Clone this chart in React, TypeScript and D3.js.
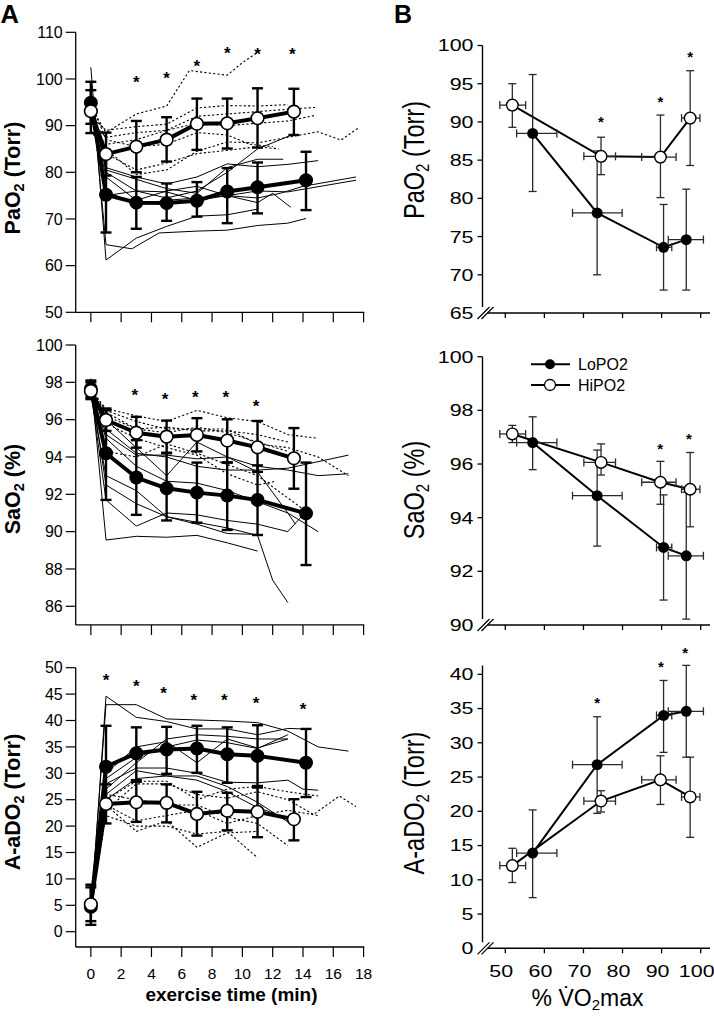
import React from "react";
import * as d3 from "d3";

const FONT = "'Liberation Sans', Arial, Helvetica, sans-serif";

type Pt = [number, number];

// ================= Panel A : time course =================
const timeLo = [0, 1, 3, 5, 7, 9, 11, 14.2];
const timeHi = [0, 1, 3, 5, 7, 9, 11, 13.4];
const xTicksA = [0, 2, 4, 6, 8, 10, 12, 14, 16, 18];

// PaO2
const paLoMean = [94.9, 75.2, 73.5, 73.4, 73.9, 75.9, 76.8, 78.3];
const paLoLow = [90.4, 67.1, 67.9, 69.6, 70.5, 69.1, 71.2, 71.9];
const paLoHigh = [99.4, 83.5, 79.0, 77.6, 77.9, 80.9, 82.1, 84.4];
const paHiMean = [93.1, 83.9, 85.5, 87.0, 90.4, 90.5, 91.6, 93.0];
const paHiLow = [88.4, 79.3, 80.0, 82.3, 84.8, 85.1, 85.3, 88.0];
const paHiHigh = [97.6, 88.5, 91.0, 91.8, 95.8, 95.8, 98.0, 97.9];
const paStarT = [3, 5, 7, 9, 11, 13.3];
const paStarV = [100.0, 100.9, 103.6, 106.4, 106.2, 106.2];
const paTicks = [50, 60, 70, 80, 90, 100, 110];

const paLoSubjects: Pt[][] = [
  [[0, 102.5], [1, 61.2], [3, 65.9], [5, 68.4], [7, 70.6], [9, 70.9], [11, 72.1]],
  [[0, 99], [1, 64.5], [2.7, 63.6], [4.5, 67], [7, 67.4], [9, 67.6], [11, 68.6], [13, 69.1], [14.2, 70.1]],
  [[0, 97], [1, 80], [3, 76], [5, 74.5], [7, 76], [9, 80], [11, 85], [13.4, 88.2]],
  [[0, 96], [1, 81], [3, 79], [5, 77.5], [7, 79], [9, 81.8], [11, 81.2], [13, 81.7], [15, 82.5]],
  [[0, 95], [1, 80.5], [3, 78.5], [5, 76.5], [7, 75.5], [9, 81], [11, 82.8], [12.7, 82.8]],
  [[0, 94], [1, 79], [3, 74], [5, 76], [7, 77], [9, 75], [11, 74.5], [12.5, 75.5], [14, 77], [17.5, 79]],
  [[0, 93], [1, 75], [3, 76], [5, 75.8], [7, 74], [9, 75], [11, 76], [13, 75.8], [17.5, 78.3]],
  [[0, 95], [1, 76], [3, 73], [5, 74], [7, 74.5], [9, 75], [11, 73.5], [12, 75.5], [13.2, 72.5]],
];
const paHiSubjects: Pt[][] = [
  [[0, 94], [1, 88.5], [3, 92.5], [5, 94.2], [6.5, 101.8], [9, 100.8], [10, 103.5], [11, 105.7]],
  [[0, 93], [1, 85], [3, 79.5], [5, 80.5], [7, 84.5], [9, 86.5], [11, 86.3], [13, 87.5], [15, 88.7], [16.5, 86.9], [17.7, 89.6]],
  [[0, 92], [1, 89], [3, 89.8], [5, 90.3], [7, 93.8], [9, 94.3], [11, 94.2], [13, 94.5]],
  [[0, 91], [1, 87.5], [3, 88.5], [5, 89], [7, 92], [9, 92.5], [11, 93], [13, 93.5], [14.8, 93.9]],
  [[0, 90], [1, 86], [3, 87], [5, 89], [7, 90.5], [9, 90], [11, 90.5], [13, 91], [14.8, 92.2]],
  [[0, 89], [1, 84], [3, 80.5], [5, 82], [7, 84], [9, 84.7], [11, 85.5], [12.4, 85]],
  [[0, 95], [1, 87], [3, 85.5], [5, 86], [7, 88.5], [9, 88], [10.5, 86], [12, 85.5]],
];

// SaO2
const saLoMean = [97.64, 94.2, 92.9, 92.32, 92.09, 91.93, 91.7, 90.98];
const saLoLow = [97.2, 91.7, 90.9, 90.6, 90.48, 90.09, 89.82, 88.21];
const saLoHigh = [98.1, 96.6, 94.9, 94.2, 93.7, 93.71, 93.55, 93.7];
const saHiMean = [97.54, 95.98, 95.3, 95.09, 95.18, 94.88, 94.52, 93.93];
const saHiLow = [97.1, 95.4, 94.5, 94.23, 94.3, 93.7, 93.2, 92.3];
const saHiHigh = [98.0, 96.5, 96.15, 95.95, 96.08, 96.02, 95.93, 95.55];
const saStarT = [2.9, 4.9, 6.9, 8.9, 10.9];
const saStarV = [97.5, 97.27, 97.41, 97.38, 96.93];
const saTicks = [86, 88, 90, 92, 94, 96, 98, 100];

const saLoSubjects: Pt[][] = [
  [[0, 98.2], [1, 89.55], [3, 89.75], [5, 89.7], [7, 89.8], [9, 89.4], [11, 88.96]],
  [[0, 97.8], [1, 92.5], [3, 91.5], [5, 90.8], [7, 90.5], [9, 90.2], [11, 89.8], [12, 87.4], [13, 86.2]],
  [[0, 97.5], [1, 91.7], [3, 90.3], [5, 91], [7, 90.9], [9, 90.6], [11, 90.4], [13, 90.0], [14, 90.9]],
  [[0, 97.3], [1, 93], [3, 92.2], [5, 90.8], [7, 90.4], [9, 89.9], [11, 89.85]],
  [[0, 97.6], [1, 95], [3, 93.5], [5, 92.7], [7, 92.6], [9, 92.2], [11, 91.6], [13, 91], [15, 90]],
  [[0, 97.9], [1, 95.5], [3, 94.2], [5, 94], [7, 93.5], [9, 93.3], [11, 93.3], [13, 93.4], [17, 94.1]],
  [[0, 97.7], [1, 96], [3, 94.5], [5, 93], [7, 94.8], [9, 94], [11, 93.5], [13, 93.3], [15, 93], [17, 93.1]],
  [[0, 98], [1, 95.2], [3, 94.1], [5, 94.1], [7, 93.9], [9, 94], [11, 93.2], [13, 91], [13.5, 90.4]],
];
const saHiSubjects: Pt[][] = [
  [[0, 97.5], [1, 96.6], [3, 96.2], [5, 95.9], [7, 96.5], [9, 96.1], [11, 95.9], [13, 95.2], [15, 95.0]],
  [[0, 97.4], [1, 96.5], [3, 95.9], [5, 95.5], [7, 95.5], [9, 95.5], [11, 94.7], [13, 94.5], [15, 94.0], [17, 93.0]],
  [[0, 97.6], [1, 96.2], [3, 95.5], [5, 95.3], [7, 95.6], [9, 95.3], [11, 94.8], [13, 94.3]],
  [[0, 97.2], [1, 94.3], [3, 94.0], [5, 94.7], [7, 94.2], [9, 93.6], [11, 93.0], [13, 91.8], [14.7, 90.8]],
  [[0, 97.3], [1, 95.8], [3, 95], [5, 94.5], [7, 94.1], [9, 93.1], [11, 92.5], [12.2, 92.7]],
  [[0, 97.8], [1, 96.4], [3, 95.5], [5, 95.6], [7, 95.4], [9, 95.4], [11, 95.2], [13, 94.8]],
];

// A-aDO2
const aaLoMean = [4.7, 31.25, 33.8, 34.5, 34.7, 33.6, 33.3, 32.0];
const aaLoLow = [1.3, 23.5, 28.7, 29.9, 30.1, 28.2, 27.3, 25.5];
const aaLoHigh = [8.9, 39.0, 38.7, 38.8, 39.0, 38.7, 39.1, 38.4];
const aaHiMean = [5.2, 24.2, 24.5, 24.4, 22.3, 22.9, 22.7, 21.3];
const aaHiLow = [2.0, 20.5, 20.8, 20.7, 18.2, 19.2, 17.9, 17.3];
const aaHiHigh = [8.4, 27.9, 28.4, 27.9, 26.5, 26.3, 27.6, 25.1];
const aaStarT = [1, 3, 4.8, 6.8, 8.8, 10.9, 14.0];
const aaStarV = [48.3, 47.2, 45.9, 44.6, 44.5, 44.0, 42.9];
const aaTicks = [0, 5, 10, 15, 20, 25, 30, 35, 40, 45, 50];

const aaLoSubjects: Pt[][] = [
  [[0, 3], [1, 44.6], [3, 40.6], [5, 39.8], [7, 38.4], [9, 38.4], [11, 37.3], [13, 38.5], [14, 38.4]],
  [[0, 4], [1, 43], [3, 43], [5, 40.3], [7, 40.1], [9, 39.9], [11, 39.6], [13, 38], [15, 35], [17, 34.2]],
  [[0, 5], [1, 27], [3, 32], [5, 36.5], [7, 37.3], [9, 37], [11, 36.5], [13, 36.5]],
  [[0, 4], [1, 29], [3, 33], [5, 35], [7, 36.3], [9, 35.8], [11, 34.7], [13, 37.3]],
  [[0, 6], [1, 28], [3, 31], [5, 31], [7, 30], [9, 28.3], [11, 28.2], [13, 28.7], [14, 27], [15, 26.8]],
  [[0, 5], [1, 26], [3, 30.5], [5, 29.5], [7, 29.5], [9, 27.5], [11, 24.5], [13, 20.8]],
  [[0, 3], [1, 30], [3, 35], [5, 36], [7, 32], [9, 36.5], [11, 34.8], [13, 36.5]],
  [[0, 4], [1, 25], [3, 29], [5, 29.5], [7, 28.7], [9, 26.5], [11, 23.5], [12, 22.5]],
];
const aaHiSubjects: Pt[][] = [
  [[0, 6], [1, 24], [3, 19], [5, 21], [7, 16], [9, 18.7], [11, 19]],
  [[0, 5], [1, 22], [3, 20], [5, 20], [7, 18.5], [9, 19], [11, 14]],
  [[0, 7], [1, 23], [3, 28], [5, 28], [7, 26], [9, 25.3], [11, 26.5], [13, 25], [14.7, 22.2], [16.4, 25.7], [17.5, 23.7]],
  [[0, 5], [1, 25], [3, 28.5], [5, 28.5], [7, 25], [9, 27], [11, 27.5], [13, 26.5], [15, 25.7]],
  [[0, 6], [1, 26], [3, 25], [5, 24], [7, 24], [9, 21.7], [11, 20.5], [13, 16.3]],
  [[0, 4], [1, 24], [3, 21], [5, 22], [7, 23], [9, 20.5], [11, 22], [13, 23], [15, 22]],
];

// ================= Panel B : % VO2max =================
const xTicksB = [50, 60, 70, 80, 90, 100];
const loX = [57.0, 73.5, 90.5, 96.3];
const loXLow = [52.9, 67.2, 88.7, 91.7];
const loXHigh = [63.2, 79.9, 92.6, 100.7];
const hiX = [51.8, 74.5, 89.7, 97.3];
const hiXLow = [48.6, 70.1, 84.9, 95.1];
const hiXHigh = [55.2, 78.2, 93.7, 99.8];

const bPaLo = [88.5, 78.1, 73.6, 74.6];
const bPaLoLow = [80.9, 70.0, 68.0, 68.0];
const bPaLoHigh = [96.2, 86.2, 79.2, 81.2];
const bPaHi = [92.2, 85.5, 85.4, 90.5];
const bPaHiLow = [89.3, 83.1, 80.1, 84.3];
const bPaHiHigh = [95.0, 88.0, 90.9, 96.7];
const bPaStarX = [74.5, 89.7, 97.3];
const bPaStarV = [90.4, 93.0, 99.0];
const bPaTicks = [65, 70, 75, 80, 85, 90, 95, 100];

const bSaLo = [96.8, 94.82, 92.89, 92.58];
const bSaLoLow = [95.79, 92.94, 90.93, 90.22];
const bSaLoHigh = [97.76, 96.52, 94.85, 94.95];
const bSaHi = [97.12, 96.06, 95.32, 95.06];
const bSaHiLow = [96.8, 95.59, 94.5, 93.66];
const bSaHiHigh = [97.44, 96.75, 96.1, 96.43];
const bSaStarX = [89.6, 97.0];
const bSaStarV = [96.7, 97.06];
const bSaTicks = [90, 92, 94, 96, 98, 100];

const bAaLo = [13.9, 26.8, 34.0, 34.6];
const bAaLoLow = [7.4, 19.7, 28.6, 27.9];
const bAaLoHigh = [20.2, 33.8, 39.1, 41.3];
const bAaHi = [12.07, 21.5, 24.6, 22.1];
const bAaHiLow = [9.6, 19.9, 21.0, 16.2];
const bAaHiHigh = [14.6, 23.0, 28.1, 27.9];
const bAaStarX = [73.5, 89.8, 96.0];
const bAaStarV = [36.3, 41.5, 43.6];
const bAaTicks = [0, 5, 10, 15, 20, 25, 30, 35, 40];

// ---------------------------------------------------------
const xA = d3.scaleLinear().domain([-1, 18]).range([75.7, 363.6]);
const xB = d3.scaleLinear().domain([50, 100]).range([505.3, 700.7]);

interface Series {
  t: number[];
  m: number[];
  lo: number[];
  hi: number[];
}

interface PanelAProps {
  y: d3.ScaleLinear<number, number>;
  yBottom: number;
  yTop: number;
  ticks: number[];
  loS: Series;
  hiS: Series;
  loSubjects: Pt[][];
  hiSubjects: Pt[][];
  starT: number[];
  starV: number[];
  title: string;
  titleUnit: string;
  titleY: number;
  showXLabels: boolean;
}

function Star({ x, y, size }: { x: number; y: number; size: number }) {
  return (
    <text x={x} y={y + size * 0.56} textAnchor="middle" fontSize={size} fontWeight="bold" fontFamily={FONT}>
      *
    </text>
  );
}

function PanelA(p: PanelAProps) {
  const y = p.y;
  const x0 = xA(-1);
  const yb = y(p.yBottom);
  const yt = y(p.yTop);
  const line = d3
    .line<Pt>()
    .x((d) => xA(d[0]))
    .y((d) => y(d[1]));
  const meanLine = (s: Series) => line(s.t.map((t, i) => [t, s.m[i]] as Pt)) || "";
  const errBars = (s: Series, key: string) =>
    s.t.map((t, i) => (
      <g key={key + i} stroke="#000" strokeWidth={2.4}>
        <line x1={xA(t)} x2={xA(t)} y1={y(s.lo[i])} y2={y(s.hi[i])} />
        <line x1={xA(t) - 5.5} x2={xA(t) + 5.5} y1={y(s.lo[i])} y2={y(s.lo[i])} />
        <line x1={xA(t) - 5.5} x2={xA(t) + 5.5} y1={y(s.hi[i])} y2={y(s.hi[i])} />
      </g>
    ));
  return (
    <g>
      {/* axes */}
      <line x1={x0} x2={x0} y1={yt} y2={yb} stroke="#000" strokeWidth={1.3} />
      <line x1={x0} x2={xA(18) + 0.7} y1={yb} y2={yb} stroke="#000" strokeWidth={1.3} />
      {xTicksA.map((t) => (
        <g key={"xt" + t}>
          <line x1={xA(t)} x2={xA(t)} y1={yb} y2={yb + 10} stroke="#000" strokeWidth={1.2} />
          {p.showXLabels && (
            <text x={xA(t)} y={978.5} textAnchor="middle" fontSize={15.5} fontFamily={FONT}>
              {t}
            </text>
          )}
        </g>
      ))}
      {p.ticks.map((v) => (
        <g key={"yt" + v}>
          <line x1={x0 - 10} x2={x0} y1={y(v)} y2={y(v)} stroke="#000" strokeWidth={1.2} />
          <text x={x0 - 13} y={y(v)} dy="0.36em" textAnchor="end" fontSize={16} fontFamily={FONT}>
            {v}
          </text>
        </g>
      ))}
      {/* individual subjects */}
      {p.loSubjects.map((s, i) => (
        <path key={"ls" + i} d={line(s) || ""} fill="none" stroke="#000" strokeWidth={1} />
      ))}
      {p.hiSubjects.map((s, i) => (
        <path key={"hs" + i} d={line(s) || ""} fill="none" stroke="#000" strokeWidth={1.1} strokeDasharray="2.2,2.2" />
      ))}
      {/* error bars */}
      {errBars(p.loS, "el")}
      {errBars(p.hiS, "eh")}
      {/* means */}
      <path d={meanLine(p.loS)} fill="none" stroke="#000" strokeWidth={4} strokeLinejoin="round" />
      <path d={meanLine(p.hiS)} fill="none" stroke="#000" strokeWidth={4} strokeLinejoin="round" />
      {p.loS.t.map((t, i) => (
        <circle key={"ml" + i} cx={xA(t)} cy={y(p.loS.m[i])} r={6.3} fill="#000" stroke="#000" strokeWidth={1.4} />
      ))}
      {p.hiS.t.map((t, i) => (
        <circle key={"mh" + i} cx={xA(t)} cy={y(p.hiS.m[i])} r={6.3} fill="#fff" stroke="#000" strokeWidth={1.6} />
      ))}
      {p.starT.map((t, i) => (
        <Star key={"s" + i} x={xA(t)} y={y(p.starV[i])} size={17} />
      ))}
      <text
        transform={`translate(19.5, ${p.titleY}) rotate(-90)`}
        textAnchor="middle"
        fontSize={21.5}
        fontWeight="bold"
        fontFamily={FONT}
      >
        {p.title}
        <tspan dy={4} fontSize={14.5}>
          2
        </tspan>
        <tspan dy={-4}>{p.titleUnit}</tspan>
      </text>
    </g>
  );
}

interface PanelBProps {
  y: d3.ScaleLinear<number, number>;
  yBottom: number;
  yTop: number;
  ticks: number[];
  lo: number[];
  loLow: number[];
  loHigh: number[];
  hi: number[];
  hiLow: number[];
  hiHigh: number[];
  starX: number[];
  starV: number[];
  title: string;
  titleUnit: string;
  titleY: number;
  showXLabels: boolean;
  legend?: boolean;
}

function PanelB(p: PanelBProps) {
  const y = p.y;
  const ax = 482.5;
  const yb = y(p.yBottom);
  const yt = y(p.yTop);
  const line = d3
    .line<Pt>()
    .x((d) => xB(d[0]))
    .y((d) => y(d[1]));
  const errs = (
    xs: number[],
    xl: number[],
    xh: number[],
    ys: number[],
    yl: number[],
    yh: number[],
    key: string
  ) =>
    xs.map((xv, i) => {
      const cx = xB(xv);
      const cy = y(ys[i]);
      return (
        <g key={key + i} stroke="#2a2a2a" strokeWidth={1.3}>
          <line x1={cx} x2={cx} y1={y(yl[i])} y2={y(yh[i])} />
          <line x1={cx - 4} x2={cx + 4} y1={y(yl[i])} y2={y(yl[i])} />
          <line x1={cx - 4} x2={cx + 4} y1={y(yh[i])} y2={y(yh[i])} />
          <line x1={xB(xl[i])} x2={xB(xh[i])} y1={cy} y2={cy} />
          <line x1={xB(xl[i])} x2={xB(xl[i])} y1={cy - 4} y2={cy + 4} />
          <line x1={xB(xh[i])} x2={xB(xh[i])} y1={cy - 4} y2={cy + 4} />
        </g>
      );
    });
  return (
    <g>
      <line x1={ax} x2={ax} y1={yt} y2={yb - 6} stroke="#000" strokeWidth={1.4} />
      <line x1={ax + 5} x2={710} y1={yb} y2={yb} stroke="#000" strokeWidth={1.4} />
      <line x1={ax - 5} x2={ax + 7} y1={yb + 6} y2={yb - 6} stroke="#000" strokeWidth={1.2} />
      <line x1={ax - 1} x2={ax + 11} y1={yb + 6} y2={yb - 6} stroke="#000" strokeWidth={1.2} />
      {p.ticks.map((v) => (
        <g key={"yt" + v}>
          {v !== p.yBottom && <line x1={ax - 5} x2={ax} y1={y(v)} y2={y(v)} stroke="#000" strokeWidth={1.3} />}
          <text
            transform={`translate(${ax - 9}, ${y(v)}) scale(1.3,1)`}
            dy="0.36em"
            textAnchor="end"
            fontSize={16.5}
            fontFamily={FONT}
          >
            {v}
          </text>
        </g>
      ))}
      {xTicksB.map((v) => (
        <g key={"xt" + v}>
          <line x1={xB(v)} x2={xB(v)} y1={yb} y2={yb + 5} stroke="#000" strokeWidth={1.3} />
          {p.showXLabels && (
            <text
              transform={`translate(${xB(v) - 4}, 977) scale(1.3,1)`}
              textAnchor="middle"
              fontSize={16.5}
              fontFamily={FONT}
            >
              {v}
            </text>
          )}
        </g>
      ))}
      <path d={line(loX.map((x, i) => [x, p.lo[i]] as Pt)) || ""} fill="none" stroke="#000" strokeWidth={2} />
      <path d={line(hiX.map((x, i) => [x, p.hi[i]] as Pt)) || ""} fill="none" stroke="#000" strokeWidth={2} />
      {errs(loX, loXLow, loXHigh, p.lo, p.loLow, p.loHigh, "el")}
      {errs(hiX, hiXLow, hiXHigh, p.hi, p.hiLow, p.hiHigh, "eh")}
      {loX.map((x, i) => (
        <circle key={"ml" + i} cx={xB(x)} cy={y(p.lo[i])} r={5.5} fill="#000" />
      ))}
      {hiX.map((x, i) => (
        <circle key={"mh" + i} cx={xB(x)} cy={y(p.hi[i])} r={5.8} fill="#fff" stroke="#000" strokeWidth={1.4} />
      ))}
      {p.starX.map((x, i) => (
        <Star key={"s" + i} x={xB(x)} y={y(p.starV[i])} size={15} />
      ))}
      <text
        transform={`translate(424, ${p.titleY}) rotate(-90) scale(1,1.25)`}
        textAnchor="middle"
        fontSize={23.5}
        fontFamily={FONT}
      >
        {p.title}
        <tspan dy={4} fontSize={15}>
          2
        </tspan>
        <tspan dy={-4}>{p.titleUnit}</tspan>
      </text>
      {p.legend && (
        <g>
          <line x1={531} x2={570} y1={364.3} y2={364.3} stroke="#000" strokeWidth={2} />
          <circle cx={550} cy={364.3} r={5} fill="#000" />
          <text x={578} y={364.3} dy="0.36em" fontSize={16} fontFamily={FONT}>
            LoPO2
          </text>
          <line x1={531} x2={570} y1={385} y2={385} stroke="#000" strokeWidth={2} />
          <circle cx={550} cy={385} r={5.5} fill="#fff" stroke="#000" strokeWidth={1.3} />
          <text x={578} y={385} dy="0.36em" fontSize={16} fontFamily={FONT}>
            HiPO2
          </text>
        </g>
      )}
    </g>
  );
}

export default function App() {
  const yA1 = d3.scaleLinear().domain([50, 110]).range([312.3, 32.3]);
  const yA2 = d3.scaleLinear().domain([86, 100]).range([606.3, 345]);
  const yA3 = d3.scaleLinear().domain([0, 50]).range([931.7, 667.7]);
  const yB1 = d3.scaleLinear().domain([65, 100]).range([313, 45.5]);
  const yB2 = d3.scaleLinear().domain([90, 100]).range([625, 356.7]);
  const yB3 = d3.scaleLinear().domain([0, 40]).range([948.3, 674.3]);

  return (
    <svg
      width={714}
      height={1018}
      viewBox="0 0 714 1018"
      style={{ position: "absolute", left: 0, top: 0, background: "#fff" }}
      fontFamily={FONT}
    >
      <rect x={0} y={0} width={714} height={1018} fill="#fff" />
      <text x={0.5} y={23} fontSize={25.5} fontWeight="bold" fontFamily={FONT}>
        A
      </text>
      <text x={394} y={23} fontSize={25} fontWeight="bold" fontFamily={FONT}>
        B
      </text>

      <PanelA
        y={yA1}
        yBottom={50}
        yTop={110}
        ticks={paTicks}
        loS={{ t: timeLo, m: paLoMean, lo: paLoLow, hi: paLoHigh }}
        hiS={{ t: timeHi, m: paHiMean, lo: paHiLow, hi: paHiHigh }}
        loSubjects={paLoSubjects}
        hiSubjects={paHiSubjects}
        starT={paStarT}
        starV={paStarV}
        title="PaO"
        titleUnit=" (Torr)"
        titleY={178}
        showXLabels={false}
      />
      <PanelA
        y={yA2}
        yBottom={85}
        yTop={100}
        ticks={saTicks}
        loS={{ t: timeLo, m: saLoMean, lo: saLoLow, hi: saLoHigh }}
        hiS={{ t: timeHi, m: saHiMean, lo: saHiLow, hi: saHiHigh }}
        loSubjects={saLoSubjects}
        hiSubjects={saHiSubjects}
        starT={saStarT}
        starV={saStarV}
        title="SaO"
        titleUnit=" (%)"
        titleY={489}
        showXLabels={false}
      />
      <PanelA
        y={yA3}
        yBottom={-2.9}
        yTop={50}
        ticks={aaTicks}
        loS={{ t: timeLo, m: aaLoMean, lo: aaLoLow, hi: aaLoHigh }}
        hiS={{ t: timeHi, m: aaHiMean, lo: aaHiLow, hi: aaHiHigh }}
        loSubjects={aaLoSubjects}
        hiSubjects={aaHiSubjects}
        starT={aaStarT}
        starV={aaStarV}
        title="A-aDO"
        titleUnit=" (Torr)"
        titleY={802}
        showXLabels={true}
      />
      <text x={231.5} y={1001} textAnchor="middle" fontSize={19} fontWeight="bold" fontFamily={FONT}>
        exercise time (min)
      </text>

      <PanelB
        y={yB1}
        yBottom={65}
        yTop={100}
        ticks={bPaTicks}
        lo={bPaLo}
        loLow={bPaLoLow}
        loHigh={bPaLoHigh}
        hi={bPaHi}
        hiLow={bPaHiLow}
        hiHigh={bPaHiHigh}
        starX={bPaStarX}
        starV={bPaStarV}
        title="PaO"
        titleUnit=" (Torr)"
        titleY={160}
        showXLabels={false}
      />
      <PanelB
        y={yB2}
        yBottom={90}
        yTop={100}
        ticks={bSaTicks}
        lo={bSaLo}
        loLow={bSaLoLow}
        loHigh={bSaLoHigh}
        hi={bSaHi}
        hiLow={bSaHiLow}
        hiHigh={bSaHiHigh}
        starX={bSaStarX}
        starV={bSaStarV}
        title="SaO"
        titleUnit=" (%)"
        titleY={490}
        showXLabels={false}
        legend={true}
      />
      <PanelB
        y={yB3}
        yBottom={0}
        yTop={41.3}
        ticks={bAaTicks}
        lo={bAaLo}
        loLow={bAaLoLow}
        loHigh={bAaLoHigh}
        hi={bAaHi}
        hiLow={bAaHiLow}
        hiHigh={bAaHiHigh}
        starX={bAaStarX}
        starV={bAaStarV}
        title="A-aDO"
        titleUnit=" (Torr)"
        titleY={803}
        showXLabels={true}
      />
      <text x={587.5} y={1006} textAnchor="middle" fontSize={23} fontFamily={FONT}>
        {"% V\u0307O"}
        <tspan dy={4} fontSize={15}>
          2
        </tspan>
        <tspan dy={-4}>max</tspan>
      </text>
    </svg>
  );
}
